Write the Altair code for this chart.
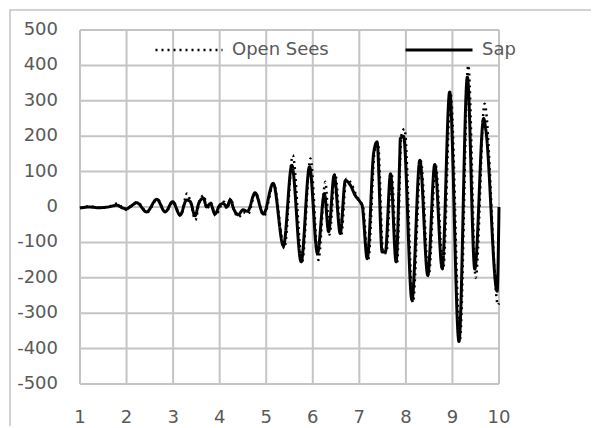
import altair as alt
import pandas as pd

# Sap series (time, value)
sap_t = [1.0, 1.2, 1.4, 1.6, 1.8, 1.9, 2.0, 2.1, 2.22, 2.43, 2.65, 2.83, 2.99, 3.15, 3.29, 3.37,
         3.47, 3.55, 3.65, 3.72, 3.8, 3.9, 4.0, 4.08, 4.15, 4.23, 4.3, 4.4, 4.5, 4.6, 4.76, 4.94,
         5.15, 5.37, 5.55, 5.75, 5.93, 6.10, 6.25, 6.34, 6.46, 6.59, 6.70, 6.81, 6.91, 7.02, 7.06,
         7.17, 7.31, 7.38, 7.49, 7.56, 7.67, 7.79, 7.87, 7.88, 7.95, 8.13, 8.30, 8.47, 8.62, 8.78,
         8.94, 9.14, 9.32, 9.48, 9.67, 9.72, 9.96, 10.0]
sap = [-3, 0, -2, 0, 5, -2, -5, 3, 12, -14, 22, -14, 15, -23, 20, 15,
       -25, 10, 25, 0, 10, -20, 5, 10, 0, 20, -5, -22, -8, -12, 40, -20,
       67, -110, 118, -155, 114, -131, 38, -70, 90, -75, 75, 61, 33, 14, 5,
       -146, 155, 184, -127, -127, 94, -155, 150, 193, 200, -263, 132, -193, 120, -174,
       325, -380, 367, -175, 250, 215, -238, 0]

# Open Sees series (time, value)
os_t = [1.0, 1.2, 1.4, 1.6, 1.8, 1.9, 2.0, 2.1, 2.23, 2.44, 2.66, 2.84, 3.0, 3.16, 3.3, 3.38,
        3.48, 3.56, 3.66, 3.73, 3.81, 3.91, 4.01, 4.09, 4.16, 4.24, 4.31, 4.41, 4.51, 4.61, 4.77, 4.95,
        5.16, 5.39, 5.57, 5.77, 5.95, 6.12, 6.27, 6.36, 6.48, 6.61, 6.72, 6.83, 6.93, 7.04, 7.08,
        7.19, 7.33, 7.40, 7.51, 7.58, 7.69, 7.81, 7.90, 7.97, 8.15, 8.32, 8.49, 8.64, 8.80, 8.96,
        9.16, 9.34, 9.50, 9.69, 9.98, 10.0]
opensees = [-3, 2, -2, 0, 10, 0, -8, 2, 14, -15, 22, -15, 15, -25, 38, 10,
            -37, 15, 33, -5, 12, -25, 0, 15, -5, 25, -10, -28, -15, -20, 40, -25,
            65, -117, 146, -155, 137, -150, 71, -78, 95, -80, 80, 65, 35, 10, 0,
            -150, 160, 180, -130, -130, 95, -160, 200, 221, -270, 130, -195, 118, -178, 320,
            -375, 400, -200, 292, -277, -272]

series_names = ["Open Sees", "Sap"]
x_ticks = [1, 2, 3, 4, 5, 6, 7, 8, 9, 10]
x_labels = ["1", "2", "3", "4", "5", "6", "7", "8", "9", "10"]
y_ticks = [-500, -400, -300, -200, -100, 0, 100, 200, 300, 400, 500]
y_labels = ["-500", "-400", "-300", "-200", "-100", "0", "100", "200", "300", "400", "500"]

df = pd.concat([
    pd.DataFrame({"t": os_t, "v": opensees, "series": "Open Sees", "o": range(len(os_t))}),
    pd.DataFrame({"t": sap_t, "v": sap, "series": "Sap", "o": range(len(sap_t))}),
])

FONT = "DejaVu Sans"
GRID = "#c4c4c4"
LABEL = "#595959"
xscale = alt.Scale(domain=[1, 10], nice=False)
yscale = alt.Scale(domain=[-500, 500], nice=False)

xdf = pd.DataFrame({"t": x_ticks, "lab": x_labels})
ydf = pd.DataFrame({"v": y_ticks, "lab": y_labels})

grid_x = alt.Chart(xdf).mark_rule(color=GRID, strokeWidth=2).encode(
    x=alt.X("t:Q", scale=xscale, axis=None))
grid_y = alt.Chart(ydf).mark_rule(color=GRID, strokeWidth=2).encode(
    y=alt.Y("v:Q", scale=yscale, axis=None))

x_text = alt.Chart(xdf).mark_text(
    font=FONT, fontSize=18, color=LABEL, align="center", baseline="middle"
).encode(x=alt.X("t:Q", scale=xscale, axis=None), y=alt.value(388), text="lab:N")
y_text = alt.Chart(ydf).mark_text(
    font=FONT, fontSize=18, color=LABEL, align="right", baseline="middle"
).encode(y=alt.Y("v:Q", scale=yscale, axis=None), x=alt.value(-22), text="lab:N")

frame = alt.Chart(pd.DataFrame({"a": [0]})).mark_rect(
    fill="white", fillOpacity=0, stroke=GRID, strokeWidth=1.5
).encode(x=alt.value(-70), x2=alt.value(530), y=alt.value(-20), y2=alt.value(440))

lines = alt.Chart(df).mark_line(interpolate="monotone", color="black").encode(
    x=alt.X("t:Q", scale=xscale, axis=None),
    y=alt.Y("v:Q", scale=yscale, axis=None),
    strokeDash=alt.StrokeDash("series:N",
                              scale=alt.Scale(domain=series_names, range=[[2, 4], [1, 0]]),
                              legend=alt.Legend(title=None, orient="none", legendX=74, legendY=-15,
                                                direction="horizontal")),
    strokeWidth=alt.StrokeWidth("series:N",
                                scale=alt.Scale(domain=series_names, range=[2.5, 3]),
                                legend=None),
    order="o:Q",
)

chart = alt.layer(frame, grid_x, grid_y, x_text, y_text, lines).properties(
    width=419, height=354,
    autosize=alt.AutoSizeParams(type="none"),
    padding={"left": 72, "top": 22, "right": 92, "bottom": 42},
).configure_view(strokeWidth=0).configure_legend(
    symbolType="stroke", symbolSize=4489, symbolStrokeColor="black", symbolStrokeWidth=2.5,
    labelFont=FONT, labelFontSize=18, labelColor=LABEL, labelOffset=8,
    columnPadding=70,
)

chart.save("out.html", embed_options={"renderer": "svg", "actions": False})
